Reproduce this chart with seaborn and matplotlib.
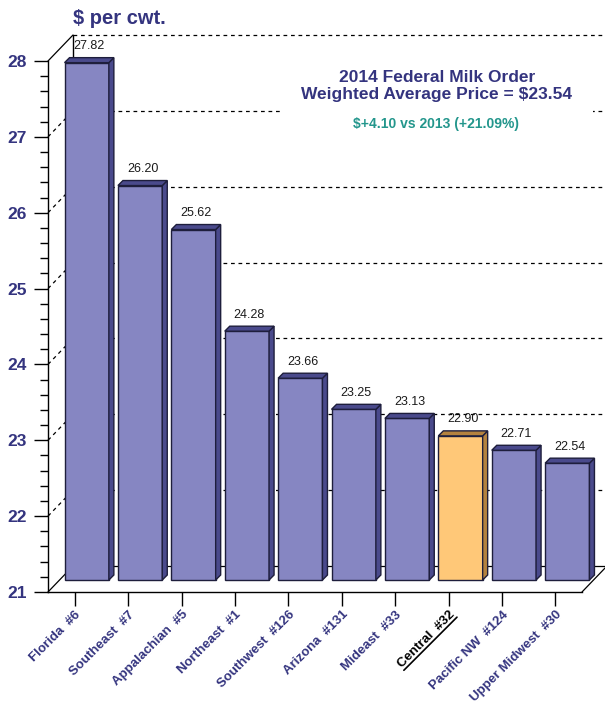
"""
2014 Federal Milk Order prices - pseudo 3D bar chart with seaborn
"""

import numpy as np
import pandas as pd
import seaborn as sns
from matplotlib import pyplot as plt
from matplotlib.lines import Line2D
from matplotlib.patches import Polygon
from matplotlib.ticker import MultipleLocator
from matplotlib.transforms import ScaledTranslation, IdentityTransform

# data
regions = ["Florida  #6", "Southeast  #7", "Appalachian  #5", "Northeast  #1",
           "Southwest  #126", "Arizona  #131", "Mideast  #33", "Central  #32",
           "Pacific NW  #124", "Upper Midwest  #30"]
prices = [27.82, 26.20, 25.62, 24.28, 23.66, 23.25, 23.13, 22.90, 22.71, 22.54]
highlight = "Central  #32"
y_ticks = [21, 22, 23, 24, 25, 26, 27, 28]
title_text = "2014 Federal Milk Order\nWeighted Average Price = $23.54"
subtitle_text = "$+4.10 vs 2013 (+21.09%)"
unit_text = "$ per cwt."

# colours
NAVY = "#34347f"
TEAL = "#23968c"
BAR = "#8686c2"
BAR_DARK = "#4a4a8c"
HI = "#ffc878"
HI_DARK = "#b4823e"
EDGE = "#1e1e3c"

sns.set_theme(style="white")
plt.rcParams["font.family"] = ["Liberation Sans", "DejaVu Sans"]


def main():
    fig = plt.figure(figsize=(6.05, 7.09), dpi=100)
    ax = fig.add_axes([48 / 605, 117 / 709, 534 / 605, 531 / 709])
    ax.set_facecolor("none")

    df = pd.DataFrame({"region": regions, "price": prices})
    colors = [HI if r == highlight else BAR for r in regions]
    sns.barplot(data=df, x="region", y="price", hue="region", palette=colors,
                legend=False, width=0.83, edgecolor=EDGE, linewidth=1,
                saturation=1, ax=ax, zorder=3)
    ax.set_xlim(-0.5, len(regions) - 0.5)
    ax.set_ylim(y_ticks[0], y_ticks[-1])

    dpi = fig.dpi
    # depth offsets (bars sit mid-depth, grid on the back wall)
    mid = ax.transData + ScaledTranslation(12 / dpi, 12 / dpi, fig.dpi_scale_trans)
    back = ax.transData + ScaledTranslation(25 / dpi, 26 / dpi, fig.dpi_scale_trans)
    depth = 5

    # bars start at the floor, then get a side and a top face
    for p in ax.patches:
        i = int(round(p.get_x() + p.get_width() / 2))
        p.set_y(y_ticks[0])
        p.set_height(prices[i] - y_ticks[0])
        p.set_transform(mid)
        p.set_clip_on(False)
        (x0, y0), (x1, y1) = mid.transform([(p.get_x(), p.get_y()),
                                            (p.get_x() + p.get_width(),
                                             p.get_y() + p.get_height())])
        dark = HI_DARK if regions[i] == highlight else BAR_DARK
        side = [(x1, y0), (x1 + depth, y0 + depth), (x1 + depth, y1 + depth), (x1, y1)]
        top = [(x0, y1), (x1, y1), (x1 + depth, y1 + depth), (x0 + depth, y1 + depth)]
        for pts in (side, top):
            ax.add_patch(Polygon(pts, closed=True, facecolor=dark, edgecolor=EDGE,
                                 linewidth=1, transform=IdentityTransform(),
                                 clip_on=False, zorder=3))
        ax.annotate(f"{prices[i]:.2f}", xy=((x0 + x1) / 2 + depth / 2, y1 + depth),
                    xycoords="figure pixels", xytext=(0, 4),
                    textcoords="offset points", ha="center", va="bottom",
                    fontsize=9, color="#1a1a1a", annotation_clip=False)

    # back wall grid
    for yv in y_ticks:
        ls = "-" if yv == y_ticks[0] else (0, (3, 3))
        ax.plot([-0.5, len(regions) + 1], [yv, yv], transform=back, color="black",
                lw=0.9, ls=ls, clip_on=False, zorder=0.5)
    ax.plot([-0.5, -0.5], [y_ticks[0], y_ticks[-1]], transform=back,
            color="black", lw=1, clip_on=False, zorder=0.5)

    # diagonals from the front axis to the back wall
    for yv in y_ticks:
        fx, fy = ax.transData.transform((-0.5, yv))
        ls = "-" if yv in (y_ticks[0], y_ticks[-1]) else (0, (3, 3))
        ax.add_line(Line2D([fx, fx + 25], [fy, fy + 26], transform=IdentityTransform(),
                           color="black", lw=0.9, ls=ls, clip_on=False, zorder=0.6))
    fx, fy = ax.transData.transform((len(regions) - 0.5, y_ticks[0]))
    ax.add_line(Line2D([fx, fx + 25], [fy, fy + 26], transform=IdentityTransform(),
                       color="black", lw=0.9, clip_on=False, zorder=0.6))

    # axes styling
    for s in ("top", "right"):
        ax.spines[s].set_visible(False)
    for s in ("left", "bottom"):
        ax.spines[s].set_color("black")
        ax.spines[s].set_linewidth(1)
    ax.set_yticks(y_ticks)
    ax.yaxis.set_minor_locator(MultipleLocator(0.2))
    ax.tick_params(axis="y", which="major", left=True, length=10, width=1,
                   color="black", direction="out", pad=5, labelsize=12.5,
                   labelcolor=NAVY)
    ax.tick_params(axis="y", which="minor", left=True, length=6, width=1,
                   color="black", direction="out")
    ax.tick_params(axis="x", bottom=True, length=10, width=1, color="black",
                   direction="out", pad=2)
    for lab in ax.get_yticklabels():
        lab.set_fontweight("bold")
    ax.set_xticks(range(len(regions)))
    ax.set_xticklabels(regions, rotation=45, ha="right", rotation_mode="anchor",
                       fontsize=9.5, fontweight="bold", color=NAVY)
    ax.set_xlabel("")
    ax.set_ylabel("")

    # texts
    fig.text(73 / 605, 1 - 18 / 709, unit_text, ha="left", va="center",
             fontsize=14.5, fontweight="bold", color=NAVY)
    fig.text(437 / 605, 1 - 86 / 709, title_text, ha="center", va="center",
             fontsize=12.5, fontweight="bold", color=NAVY, linespacing=1.1,
             bbox=dict(facecolor="white", edgecolor="none", pad=15))
    fig.text(436 / 605, 1 - 124 / 709, subtitle_text, ha="center", va="center",
             fontsize=10, fontweight="bold", color=TEAL,
             bbox=dict(facecolor="white", edgecolor="none", pad=2))

    # underline the highlighted category label
    fig.canvas.draw()
    renderer = fig.canvas.get_renderer()
    for lab in ax.get_xticklabels():
        if lab.get_text() == highlight:
            lab.set_color("black")
            bb = lab.get_window_extent(renderer)
            probe = fig.text(0, 0, highlight, fontsize=lab.get_fontsize(),
                             fontweight="bold")
            h = probe.get_window_extent(renderer).height
            probe.remove()
            d = h / np.sqrt(2)
            fig.add_artist(Line2D([bb.x0 + d, bb.x1], [bb.y0, bb.y1 - d],
                                  transform=IdentityTransform(), color="black",
                                  lw=1.2))

    fig.savefig("out.png", dpi=100)


if __name__ == "__main__":
    main()
